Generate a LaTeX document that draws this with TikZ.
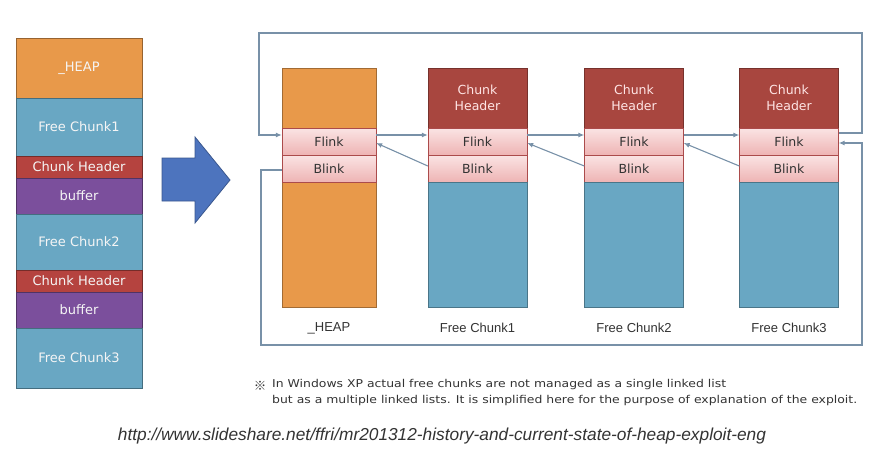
\documentclass[tikz,border=0pt]{standalone}
\usepackage{fontspec}
\setmainfont{DejaVu Sans}
\newfontfamily\arialfont{Liberation Sans}
\newfontfamily\notefont[FakeStretch=1.15]{DejaVu Sans}
\newfontfamily\markfont{Noto Sans CJK JP}
\usetikzlibrary{arrows.meta,shadings}

\definecolor{heaporange}{HTML}{E8994A}
\definecolor{chunkblue}{HTML}{69A7C3}
\definecolor{hdrred}{HTML}{A8463F}
\definecolor{hdrredL}{HTML}{B5433F}
\definecolor{bufpurple}{HTML}{7B4F9C}
\definecolor{pinktop}{HTML}{FAE3E3}
\definecolor{pinkbot}{HTML}{EEB3B3}
\definecolor{linkline}{HTML}{7891A8}
\definecolor{arrowblue}{HTML}{4D74BE}
\definecolor{notegray}{HTML}{333333}

\begin{document}
\begin{tikzpicture}[%
    x=1pt, y=-1pt,
    seg/.style={
      rectangle,
      draw=#1!65!black,
      fill=#1,
      inner sep=0pt,
      minimum width=126pt,
      text=white!92!gray,
      font=\fontsize{13}{15}\selectfont
    },
    col/.style={
      rectangle,
      draw=#1!70!black,
      fill=#1,
      thick,
      inner sep=0pt,
      minimum width=99pt,
      align=center,
      text=pink!40!white,
      font=\fontsize{12.5}{16}\selectfont
    },
    linkbox/.style={
      rectangle,
      draw=pinkbot!60!red!70!black,
      top color=pinktop,
      bottom color=pinkbot,
      inner sep=0pt,
      minimum width=99pt,
      minimum height=27pt,
      text=notegray,
      font=\fontsize{12.5}{15}\selectfont
    },
    caption/.style={
      text=notegray,
      font=\arialfont\fontsize{13}{15}\selectfont
    },
    link/.style={
      draw=linkline,
      line width=1.1pt,
      -{Latex[length=6pt,width=5pt]}
    }
  ]
  \useasboundingbox (0,0) rectangle (886,453);

  % memory layout on the left
  \node[seg=heaporange, minimum height=60pt] (heapL) at (79,68) {\_HEAP};
  \node[seg=chunkblue, minimum height=58pt] (fcA) at (79,127) {Free Chunk1};
  \node[seg=hdrredL, minimum height=22pt] (hdrA) at (79,167) {Chunk Header};
  \node[seg=bufpurple, minimum height=36pt] (bufA) at (79,196) {buffer};
  \node[seg=chunkblue, minimum height=56pt] (fcB) at (79,242) {Free Chunk2};
  \node[seg=hdrredL, minimum height=22pt] (hdrB) at (79,281) {Chunk Header};
  \node[seg=bufpurple, minimum height=36pt] (bufB) at (79,310) {buffer};
  \node[seg=chunkblue, minimum height=60pt] (fcC) at (79,358) {Free Chunk3};

  % big arrow
  \draw[draw=arrowblue!75!black, fill=arrowblue, line width=0.8pt]
    (162,158) -- (195,158) -- (195,137) -- (230,180) -- (195,223)
    -- (195,201) -- (162,201) -- cycle;

  % outer list lines
  \coordinate (topR) at (862,33);
  \coordinate (topL) at (259,33);
  \coordinate (botL) at (261,345);
  \coordinate (botR) at (862,345);

  % _HEAP
  \node[col=heaporange, minimum width=94pt, minimum height=239pt] (heap) at (329,187.5) {};
  \node[linkbox, minimum width=94pt] (heapF) at (329,142) {Flink};
  \node[linkbox, minimum width=94pt] (heapB) at (329,169) {Blink};
  \node[caption] (heapT) at (329,328) {\_HEAP};

  % Free Chunk1
  \node[col=hdrred, minimum height=60pt] (hdrX) at (477.5,98) {Chunk\\Header};
  \node[linkbox] (fcXF) at (477.5,142) {Flink};
  \node[linkbox] (fcXB) at (477.5,169) {Blink};
  \node[col=chunkblue, minimum height=125pt] (fcX) at (477.5,245) {};
  \node[caption] (fcXT) at (477.5,328) {Free Chunk1};

  % Free Chunk2
  \node[col=hdrred, minimum height=60pt] (hdrY) at (634,98) {Chunk\\Header};
  \node[linkbox] (fcYF) at (634,142) {Flink};
  \node[linkbox] (fcYB) at (634,169) {Blink};
  \node[col=chunkblue, minimum height=125pt] (fcY) at (634,245) {};
  \node[caption] (fcYT) at (634,328) {Free Chunk2};

  % Free Chunk3
  \node[col=hdrred, minimum height=60pt] (hdrZ) at (789,98) {Chunk\\Header};
  \node[linkbox] (fcZF) at (789,142) {Flink};
  \node[linkbox] (fcZB) at (789,169) {Blink};
  \node[col=chunkblue, minimum height=125pt] (fcZ) at (789,245) {};
  \node[caption] (fcZT) at (789,328) {Free Chunk3};

  % Flink
  \draw[link] ([yshift=7pt]heapF.east) -- ([yshift=7pt]fcXF.west);
  \draw[link] ([yshift=7pt]fcXF.east) -- ([yshift=7pt]fcYF.west);
  \draw[link] ([yshift=7pt]fcYF.east) -- ([yshift=7pt]fcZF.west);
  \draw[link] ([yshift=9pt]fcZF.east) -| (topR) -- (topL)
    |- ([yshift=7pt]heapF.west);

  % Blink
  \draw[link] ([yshift=3pt]fcXB.west) -- ([yshift=-1pt]heapF.east);
  \draw[link] ([yshift=3pt]fcYB.west) -- ([yshift=-1pt]fcXF.east);
  \draw[link] ([yshift=3pt]fcZB.west) -- ([yshift=-1pt]fcYF.east);
  \draw[link] ([yshift=-1pt]heapB.west) -| (botL) -- (botR)
    |- ([yshift=-1pt]fcZF.east);

  % note
  \node[text=notegray, font=\markfont\fontsize{12.5}{13}\selectfont] (mark) at (260,386) {※};
  \node[anchor=north west, align=left, inner sep=0pt, text=notegray,
        font=\notefont\fontsize{10.8}{16.5}\selectfont] (note) at (272,379)
    {In Windows XP actual free chunks are not managed as a single linked list\\
     but as a multiple linked lists. It is simplified here for the purpose of explanation of the exploit.};

  \node[text=notegray, font=\arialfont\itshape\fontsize{17.3}{19}\selectfont] (url) at (442,436)
    {http://www.slideshare.net/ffri/mr201312-history-and-current-state-of-heap-exploit-eng};
\end{tikzpicture}
\end{document}
